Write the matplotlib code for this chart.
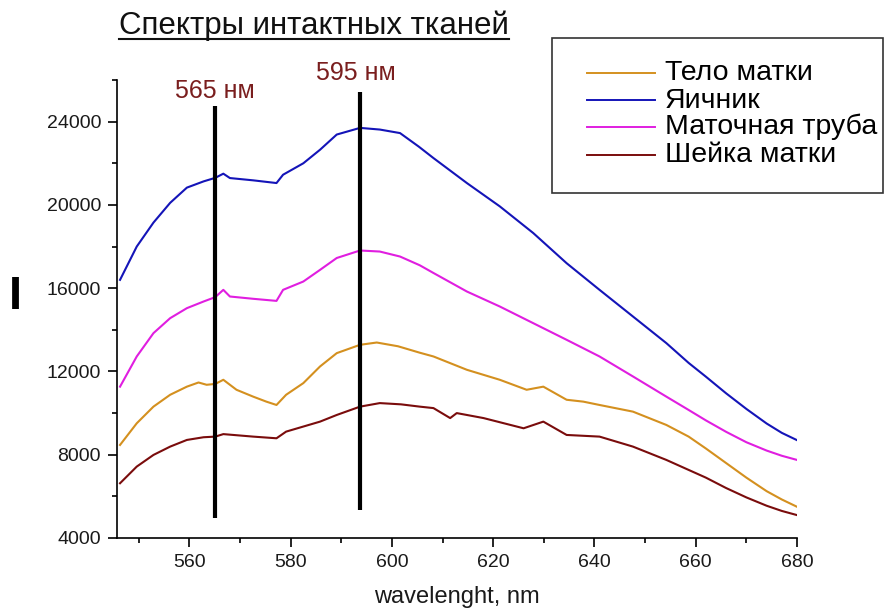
import matplotlib
matplotlib.use("Agg")
import matplotlib.pyplot as plt
from matplotlib.lines import Line2D
from matplotlib.patches import Rectangle

plt.rcParams["font.family"] = ["Liberation Sans", "DejaVu Sans"]

# ---- data ----
blue_wl = [546.3, 549.6, 552.9, 556.2, 559.5, 562.8, 565.1, 566.7, 568.0, 572.6,
           577.2, 578.5, 582.5, 585.8, 589.1, 593.7, 597.6, 601.6, 605.3, 608.2,
           614.8, 621.3, 627.9, 634.5, 641.0, 647.6, 654.2, 658.6, 662, 666,
           670, 674, 677, 680]
blue_val = [16400, 18000, 19150, 20100, 20830, 21130, 21300, 21500, 21290, 21180,
            21050, 21450, 22000, 22650, 23380, 23700, 23620, 23450, 22800, 22250,
            21050, 19930, 18650, 17200, 15920, 14640, 13360, 12410, 11750, 10950,
            10200, 9500, 9050, 8700]

pink_wl = [546.3, 549.6, 552.9, 556.2, 559.5, 562.8, 565.1, 566.7, 568.0, 572.6,
           577.2, 578.5, 582.5, 585.8, 589.1, 593.7, 597.6, 601.6, 605.5, 608.2,
           614.8, 621.3, 627.9, 634.5, 641.0, 647.6, 654.2, 658.6, 662, 666,
           670, 674, 677, 680]
pink_val = [11270, 12720, 13840, 14560, 15040, 15360, 15570, 15920, 15600, 15490,
            15390, 15920, 16320, 16880, 17450, 17810, 17760, 17520, 17100, 16730,
            15840, 15120, 14320, 13520, 12720, 11760, 10790, 10150, 9650, 9100,
            8600, 8200, 7950, 7750]

orange_wl = [546.3, 549.6, 552.9, 556.2, 559.5, 561.8, 563.4, 565.1, 566.7, 569.3,
             572.6, 575.2, 577.2, 579.1, 582.5, 585.8, 589.1, 593.7, 597.0, 601.2,
             605.5, 608.2, 614.8, 621.3, 626.6, 629.9, 634.5, 637.8, 641.0, 647.6,
             654.2, 658.6, 662, 666, 670, 674, 677, 680]
orange_val = [8470, 9510, 10310, 10880, 11270, 11470, 11360, 11400, 11600, 11120,
              10790, 10550, 10390, 10880, 11440, 12240, 12880, 13280, 13390, 13210,
              12900, 12720, 12080, 11600, 11120, 11270, 10640, 10550, 10390, 10070,
              9430, 8870, 8300, 7600, 6900, 6250, 5850, 5500]

darkred_wl = [546.3, 549.6, 552.9, 556.2, 559.5, 562.8, 565.1, 566.7, 572.6, 577.2,
              579.1, 585.8, 589.1, 593.7, 597.6, 601.8, 605.5, 608.2, 611.5, 612.8,
              618.1, 626.0, 629.9, 634.5, 641.0, 647.6, 654.2, 658.6, 662, 666,
              670, 674, 677, 680]
darkred_val = [6630, 7430, 7990, 8390, 8710, 8840, 8870, 8990, 8870, 8790,
               9110, 9590, 9910, 10310, 10480, 10420, 10310, 10240, 9760, 10000,
               9760, 9270, 9590, 8950, 8870, 8390, 7750, 7270, 6900, 6400,
               5950, 5550, 5300, 5100]

series_names = ["Тело матки", "Яичник", "Маточная труба", "Шейка матки"]
series_colors = ["#d4901f", "#1414b8", "#e01ee0", "#7a0c0c"]
series_data = [(orange_wl, orange_val), (blue_wl, blue_val),
               (pink_wl, pink_val), (darkred_wl, darkred_val)]

marker_nm = [565.1, 593.7]
marker_bottom = [4960, 5350]
marker_top = [24740, 25440]
marker_labels = ["565 нм", "595 нм"]
marker_label_x = [565.1, 592.9]
marker_label_y = [25150, 26020]

W, H = 889, 610
fig = plt.figure(figsize=(W / 100, H / 100), dpi=100)
ax = fig.add_axes([117 / W, 1 - 538 / H, (797 - 117) / W, (538 - 80) / H])

for (wl, val), c in zip(series_data, series_colors):
    ax.plot(wl, val, color=c, lw=1.5, zorder=2)

ax.vlines(marker_nm, marker_bottom, marker_top, colors="black", lw=3.0, zorder=3)
for x, y, s in zip(marker_label_x, marker_label_y, marker_labels):
    ax.text(x, y, s, ha="center", va="baseline", fontsize=18,
            color="#7a1e1e", clip_on=False)

ax.set_xlim(545.7, 680)
ax.set_ylim(4000, 26000)
ax.set_xticks(range(560, 681, 20))
ax.set_xticks(range(550, 681, 10), minor=True)
ax.set_yticks(range(4000, 24001, 4000))
ax.set_yticks(range(6000, 26001, 4000), minor=True)
ax.tick_params(which="both", direction="out", width=1.2, labelsize=14,
               colors="black", labelcolor="#1a1a1a")
ax.tick_params(which="major", length=6.5, pad=5)
ax.tick_params(which="minor", length=3.5)
for side in ("top", "right"):
    ax.spines[side].set_visible(False)
for side in ("left", "bottom"):
    ax.spines[side].set_linewidth(1.2)
ax.set_xlabel("wavelenght, nm", fontsize=17, labelpad=11, color="#1a1a1a")

fig.text(15 / W, 1 - 297 / H, "I", fontsize=34, fontweight="bold",
         ha="center", va="center")

title = fig.text(119 / W, 1 - 34 / H, "Спектры интактных тканей", fontsize=22.5,
                 ha="left", va="baseline", color="#111111")
fig.canvas.draw()
bb = title.get_window_extent()
fig.add_artist(Line2D([bb.x0 / W, bb.x1 / W], [1 - 38.5 / H, 1 - 38.5 / H],
                      transform=fig.transFigure, color="#111111", lw=1.5))

# legend box
fig.add_artist(Rectangle((552 / W, 1 - 193 / H), (883 - 552) / W, (193 - 38) / H,
                         transform=fig.transFigure, fill=False,
                         edgecolor="#333333", lw=1.2))
row_y = [72.7, 100, 126.7, 155]
for name, c, y in zip(series_names, series_colors, row_y):
    fig.add_artist(Line2D([587 / W, 655 / W], [1 - y / H, 1 - y / H],
                          transform=fig.transFigure, color=c, lw=1.4))
    fig.text(665 / W, 1 - (y + 7.5) / H, name, fontsize=20.5, ha="left",
             va="baseline", color="black")

fig.savefig("out.png", dpi=100)
